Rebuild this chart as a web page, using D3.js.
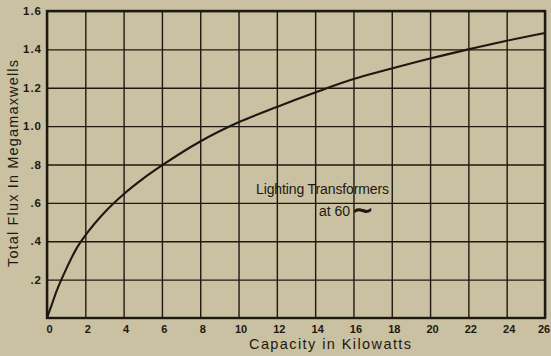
<!DOCTYPE html>
<html><head><meta charset="utf-8">
<script src="https://cdn.jsdelivr.net/npm/d3@7"></script>
<style>
html,body{margin:0;padding:0;background:#c9c1a1;}
svg{display:block;}
</style></head>
<body>
<svg id="chart" width="551" height="356"></svg>
<script>
// ---- data ----
const capacityKW = [0, 0.25, 0.5, 0.75, 1, 1.5, 2, 3, 4, 5, 6, 8, 10, 12, 14, 16, 18, 20, 22, 24, 26];
const fluxMegamaxwells = [0, 0.07, 0.14, 0.2, 0.255, 0.355, 0.43, 0.55, 0.645, 0.725, 0.795, 0.92, 1.02, 1.1, 1.175, 1.245, 1.3, 1.352, 1.4, 1.445, 1.485];
const xTicks = [0, 2, 4, 6, 8, 10, 12, 14, 16, 18, 20, 22, 24, 26];
const xTickLabels = ["0", "2", "4", "6", "8", "10", "12", "14", "16", "18", "20", "22", "24", "26"];
const yTicks = [0.2, 0.4, 0.6, 0.8, 1.0, 1.2, 1.4, 1.6];
const yTickLabels = [".2", ".4", ".6", ".8", "1.0", "1.2", "1.4", "1.6"];
const xTitle = "Capacity in Kilowatts";
const yTitle = "Total Flux In Megamaxwells";
const noteLine1 = "Lighting Transformers";
const noteLine2 = "at 60";

// ---- layout ----
const ink = "#1d1912";
const font = "Liberation Sans, Arial, sans-serif";
const L = 47, R = 545, T = 11, B = 318;
const svg = d3.select("#chart");
svg.append("rect").attr("width", 551).attr("height", 356).attr("fill", "#c9c1a1");

const x = d3.scaleLinear().domain([0, 26]).range([L, R]);
const y = d3.scaleLinear().domain([0, 1.6]).range([B, T]);

// vertical grid
const gx = svg.append("g").attr("transform", `translate(0,${B})`)
  .call(d3.axisBottom(x).tickValues(xTicks).tickSize(-(B - T)).tickFormat(""));
gx.select(".domain").remove();
gx.selectAll(".tick line").attr("stroke", ink).attr("stroke-width", 1.4);

// horizontal grid
const gy = svg.append("g").attr("transform", `translate(${L},0)`)
  .call(d3.axisLeft(y).tickValues(yTicks).tickSize(-(R - L)).tickFormat(""));
gy.select(".domain").remove();
gy.selectAll(".tick line").attr("stroke", ink).attr("stroke-width", 1.4);

// frame
svg.append("rect").attr("x", L).attr("y", T).attr("width", R - L).attr("height", B - T)
  .attr("fill", "none").attr("stroke", ink).attr("stroke-width", 2.4);

// x labels
svg.append("g").selectAll("text").data(xTicks).join("text")
  .attr("x", d => d === 26 ? 544 : x(d) + 2.5).attr("y", 333)
  .attr("text-anchor", "middle")
  .attr("font-family", font)
  .attr("font-weight", "bold").attr("font-size", 11).attr("fill", ink)
  .text((d, i) => xTickLabels[i]);

// y labels
svg.append("g").selectAll("text").data(yTicks).join("text")
  .attr("x", 42).attr("y", d => y(d) + 4)
  .attr("text-anchor", "end")
  .attr("font-family", font)
  .attr("font-weight", "bold").attr("font-size", 11.5).attr("letter-spacing", 1).attr("fill", ink)
  .text((d, i) => yTickLabels[i]);

// curve
const line = d3.line().x((d, i) => x(capacityKW[i])).y(d => y(d)).curve(d3.curveMonotoneX);
svg.append("path").datum(fluxMegamaxwells).attr("d", line)
  .attr("fill", "none").attr("stroke", ink).attr("stroke-width", 2.1);

// axis titles
svg.append("text").attr("x", 249).attr("y", 349)
  .attr("font-family", font).attr("font-size", 14.5).attr("fill", ink)
  .attr("textLength", 162).attr("lengthAdjust", "spacing")
  .text(xTitle);

svg.append("text").attr("transform", "translate(18,267) rotate(-90)")
  .attr("font-family", font).attr("font-size", 14.5).attr("fill", ink)
  .attr("textLength", 207).attr("lengthAdjust", "spacing")
  .text(yTitle);

// annotation
svg.append("text").attr("x", 256).attr("y", 194)
  .attr("font-family", font).attr("font-size", 14).attr("fill", ink)
  .attr("textLength", 133).attr("lengthAdjust", "spacing")
  .text(noteLine1);
const t2 = svg.append("text").attr("x", 319).attr("y", 216)
  .attr("font-family", font).attr("font-size", 14).attr("fill", ink);
t2.append("tspan").text(noteLine2);
t2.append("tspan").attr("dx", 1).attr("font-family", "DejaVu Sans, sans-serif").attr("font-size", 27)
  .attr("font-weight", "bold").attr("dy", 3).text("∼");
</script>
</body></html>
